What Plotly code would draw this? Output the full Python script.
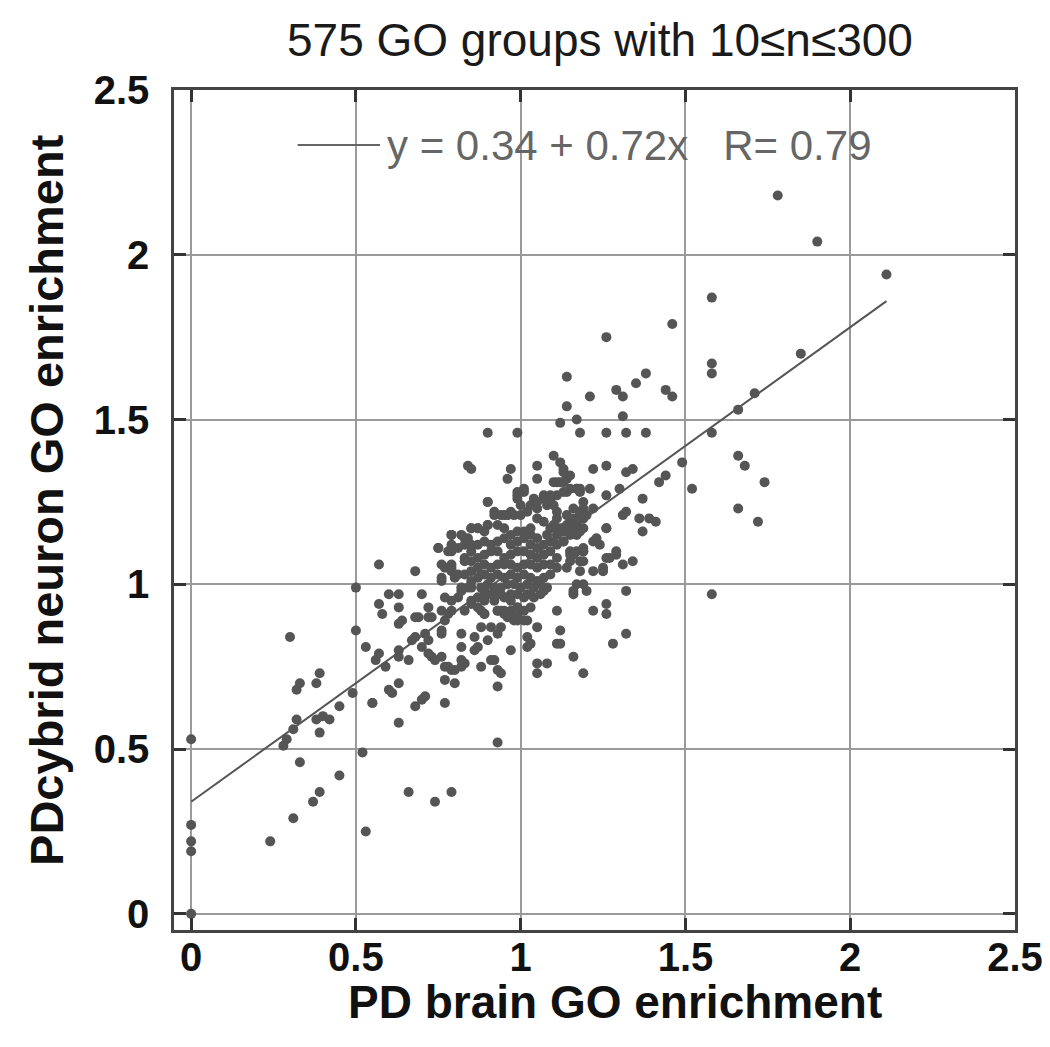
import plotly.graph_objects as go

# ---- data: (PD brain enrichment, PDcybrid neuron enrichment) ----
points_zero = [(0, 0.0), (0, 0.19), (0, 0.22), (0, 0.27), (0, 0.53)]

points_low = [
    (0.24, 0.22), (0.31, 0.29), (0.37, 0.34), (0.39, 0.37), (0.33, 0.46), (0.45, 0.42),
    (0.53, 0.25), (0.52, 0.49), (0.66, 0.37), (0.74, 0.34), (0.79, 0.37), (0.28, 0.51),
    (0.29, 0.53), (0.30, 0.84), (0.32, 0.68), (0.33, 0.70), (0.38, 0.70), (0.39, 0.73),
    (0.31, 0.56), (0.32, 0.59), (0.38, 0.59), (0.40, 0.60), (0.42, 0.59), (0.39, 0.55),
    (0.45, 0.63), (0.49, 0.67), (0.50, 0.99), (0.50, 0.86), (0.53, 0.81), (0.55, 0.64),
    (0.56, 0.77), (0.57, 0.79), (0.59, 0.75), (0.61, 0.67), (0.63, 0.70), (0.63, 0.58),
    (0.63, 0.78), (0.66, 0.77), (0.68, 0.63), (0.70, 0.65), (0.71, 0.66), (0.63, 0.88),
    (0.63, 0.93), (0.57, 0.94), (0.58, 0.91), (0.60, 0.97), (0.63, 0.97), (0.70, 0.97),
    (0.72, 0.93), (0.68, 0.90), (0.72, 0.90), (0.73, 0.90), (0.68, 0.84), (0.70, 0.81),
    (0.72, 0.83), (0.73, 0.78), (0.74, 0.77), (0.76, 0.78), (0.76, 0.86), (0.77, 0.71),
    (0.77, 0.75), (0.80, 0.70), (0.79, 0.74), (0.82, 0.81), (0.82, 0.75), (0.83, 0.76),
    (0.86, 0.80), (0.86, 0.84), (0.87, 0.81), (0.88, 0.75), (0.90, 0.83), (0.91, 0.77),
    (0.93, 0.85), (0.93, 0.74), (0.93, 0.69), (0.93, 0.52), (0.97, 0.80), (0.94, 0.87),
    (0.77, 0.64), (0.92, 0.77), (0.94, 0.73), (0.78, 0.75), (0.82, 0.77), (0.63, 0.80),
    (0.72, 0.79), (0.67, 0.83), (0.88, 0.87), (0.76, 0.85), (1.02, 0.84), (1.02, 0.81),
    (1.03, 0.82), (1.05, 0.87), (1.12, 0.86), (1.11, 0.82), (1.11, 0.92), (1.16, 0.78),
    (1.05, 0.76), (1.08, 0.76), (1.05, 0.73), (1.02, 0.89), (0.99, 0.89), (0.98, 0.90),
    (0.69, 0.90), (0.71, 0.85), (0.79, 0.92), (0.79, 0.95), (0.76, 0.92), (0.64, 0.89),
    (0.77, 0.96), (0.78, 0.91), (0.77, 0.89), (0.81, 0.96), (0.84, 0.99), (0.83, 0.92),
    (0.85, 0.94), (0.87, 0.93), (0.89, 0.91), (0.82, 0.85), (0.91, 0.87), (0.80, 0.74),
    (0.60, 0.68), (0.55, 0.64),
]

points_core = [
    (0.57, 1.06), (0.68, 1.04), (0.75, 1.11), (0.79, 1.15), (0.79, 1.10), (0.83, 1.14),
    (0.85, 1.17), (0.87, 1.17), (0.90, 1.18), (0.90, 1.25), (0.92, 1.22), (0.95, 1.21),
    (0.97, 1.22), (0.76, 1.06), (0.79, 1.05), (0.76, 1.01), (0.80, 1.02), (0.83, 1.08),
    (0.85, 1.12), (0.82, 0.99), (0.85, 0.99), (0.88, 1.03),
    (0.82, 0.98), (0.85, 0.95), (0.87, 0.96), (0.89, 0.98), (0.89, 0.95), (0.88, 0.92),
    (0.89, 0.91), (0.93, 0.92), (0.94, 0.92), (0.96, 0.90), (0.98, 0.89), (0.92, 0.95),
    (0.94, 0.97), (0.96, 0.96), (0.97, 0.95), (0.99, 0.93), (1.00, 0.92), (1.02, 0.97),
    (1.04, 0.96), (1.06, 0.97), (1.07, 0.98),
    (1.05, 1.20), (1.03, 1.17), (1.07, 1.19), (1.09, 1.17), (1.11, 1.15), (1.08, 1.15),
    (1.05, 1.14), (1.03, 1.15), (1.01, 1.16), (0.99, 1.16), (0.97, 1.15), (0.95, 1.17),
    (0.93, 1.18), (0.90, 1.18), (0.89, 1.16), (0.87, 1.17), (0.85, 1.17), (0.84, 1.14),
    (0.82, 1.15), (0.79, 1.15), (0.79, 1.12), (0.75, 1.11), (0.78, 1.10), (0.81, 1.11),
    (0.83, 1.12), (0.85, 1.10), (0.87, 1.12), (0.89, 1.13), (0.91, 1.12), (0.93, 1.13),
    (0.95, 1.14), (0.97, 1.12), (0.99, 1.13), (1.01, 1.14), (1.03, 1.12), (1.05, 1.11),
    (1.07, 1.12), (1.09, 1.13), (1.11, 1.12), (1.13, 1.13), (1.15, 1.10), (1.17, 1.10),
    (1.19, 1.10), (1.18, 1.07), (1.15, 1.07), (1.14, 1.05), (1.11, 1.08), (1.09, 1.10),
    (1.07, 1.09), (1.05, 1.08), (1.03, 1.09), (1.01, 1.10), (0.99, 1.10), (0.97, 1.09),
    (0.95, 1.08), (0.93, 1.10), (0.91, 1.10), (0.89, 1.09), (0.87, 1.08), (0.85, 1.07),
    (0.83, 1.07), (0.79, 1.06), (0.77, 1.05), (0.76, 1.02), (0.79, 1.04), (0.81, 1.03),
    (0.83, 1.03), (0.85, 1.04), (0.87, 1.05), (0.89, 1.06), (0.91, 1.05), (0.93, 1.06),
    (0.95, 1.06), (0.97, 1.06), (0.99, 1.05), (1.01, 1.06), (1.03, 1.06), (1.05, 1.05),
    (1.07, 1.06), (1.09, 1.06), (1.11, 1.05), (1.09, 1.03), (1.07, 1.02), (1.05, 1.01),
    (1.03, 1.02), (1.01, 1.03), (0.99, 1.02), (0.97, 1.03), (0.95, 1.02), (0.93, 1.03),
    (0.91, 1.02), (0.89, 1.03), (0.87, 1.02), (0.85, 1.01), (0.88, 0.99), (0.90, 1.00),
    (0.92, 0.99), (0.94, 0.99), (0.96, 1.00), (0.98, 1.00), (1.00, 0.99), (1.02, 1.00),
    (1.04, 0.99), (1.06, 1.00), (1.08, 0.99), (1.03, 0.97), (1.01, 0.96), (0.99, 0.97),
    (0.97, 0.97), (0.95, 0.96), (0.93, 0.97), (0.91, 0.97), (0.89, 0.96), (0.87, 0.96),
    (0.99, 0.93), (1.01, 0.92), (1.03, 0.93), (0.97, 0.92), (0.95, 0.92), (0.93, 0.92),
    (0.99, 0.90), (1.01, 0.89), (0.97, 0.90), (0.95, 0.91),
    (1.17, 1.29), (1.18, 1.28), (1.15, 1.29), (1.13, 1.28), (1.11, 1.27), (1.09, 1.26),
    (1.07, 1.27), (1.04, 1.26), (1.03, 1.24), (1.01, 1.28), (0.99, 1.27), (1.00, 1.24),
    (1.05, 1.23), (1.08, 1.24), (1.10, 1.24), (1.11, 1.22), (1.14, 1.21), (1.15, 1.19),
    (1.17, 1.18), (1.19, 1.20), (1.19, 1.17), (1.18, 1.16), (1.15, 1.15), (1.13, 1.16),
    (1.11, 1.17), (0.90, 1.25), (0.92, 1.21), (0.94, 1.21), (0.96, 1.21), (0.98, 1.21),
    (1.00, 1.21), (1.02, 1.22), (1.22, 1.23), (1.19, 1.23), (1.18, 1.22), (1.20, 1.21),
    (1.14, 1.32), (1.12, 1.31), (1.10, 1.31), (0.99, 1.28), (1.01, 1.29), (0.99, 1.26),
    (1.05, 1.25), (1.07, 1.26), (1.09, 1.27), (1.11, 1.20), (1.10, 1.18), (1.12, 1.17),
    (1.14, 1.18), (1.16, 1.16), (1.17, 1.18),
    (1.13, 1.34), (1.15, 1.33), (1.13, 1.31), (1.14, 1.28), (1.17, 1.29), (1.19, 1.25),
    (1.16, 1.23), (1.18, 1.21), (1.16, 1.20), (1.19, 1.20), (1.15, 1.17), (1.17, 1.15),
    (1.13, 1.17), (1.13, 1.13),
]

points_right = [
    (1.49, 1.37), (1.26, 1.36), (1.22, 1.35), (1.32, 1.34), (1.34, 1.35), (1.42, 1.31),
    (1.44, 1.33), (1.30, 1.29), (1.26, 1.27), (1.37, 1.26), (1.18, 1.29), (1.21, 1.29),
    (1.31, 1.21), (1.32, 1.22), (1.36, 1.20), (1.39, 1.20), (1.41, 1.19), (1.37, 1.16),
    (1.26, 1.17), (1.22, 1.13), (1.23, 1.14), (1.29, 1.09), (1.26, 1.08), (1.34, 1.07),
    (1.31, 1.06), (1.25, 1.04), (1.22, 1.04), (1.18, 1.04), (1.19, 1.07), (1.15, 1.09),
    (1.16, 1.09), (1.19, 1.10), (1.19, 1.00), (1.16, 0.98), (1.20, 0.98), (1.32, 0.98),
    (1.26, 0.94), (1.26, 0.91), (1.22, 0.92), (1.12, 0.82), (1.32, 0.85), (1.28, 0.82),
    (1.19, 0.73), (1.25, 1.05), (1.27, 1.08), (1.29, 1.10), (1.19, 1.11), (1.24, 1.12),
    (1.26, 1.17), (1.17, 1.00), (1.16, 0.97),
]

points_upper = [
    (1.78, 2.18), (1.90, 2.04), (2.11, 1.94), (1.58, 1.87), (1.46, 1.79), (1.26, 1.75),
    (1.58, 1.67), (1.58, 1.64), (1.85, 1.70), (1.38, 1.64), (1.35, 1.61), (1.29, 1.59),
    (1.31, 1.57), (1.44, 1.59), (1.46, 1.57), (1.71, 1.58), (1.66, 1.53), (1.31, 1.51),
    (1.18, 1.46), (1.26, 1.46), (1.32, 1.46), (1.38, 1.46), (1.58, 1.46), (1.66, 1.39),
    (1.68, 1.36), (1.74, 1.31), (1.52, 1.29), (1.66, 1.23), (1.72, 1.19), (1.58, 0.97),
    (1.14, 1.63), (1.21, 1.57), (1.14, 1.54), (1.12, 1.49), (1.17, 1.50),
    (0.90, 1.46), (0.99, 1.46), (0.84, 1.36), (0.85, 1.35), (0.97, 1.35), (0.96, 1.32),
    (1.05, 1.36), (1.05, 1.32), (1.10, 1.39), (1.12, 1.37), (1.13, 1.35), (1.11, 1.31),
]

fit_intercept = 0.34
fit_slope = 0.72
fit_x_range = [0.0, 2.11]
fit_label = "y = 0.34 + 0.72x\u00a0\u00a0\u00a0R= 0.79"

title_text = "575 GO groups with 10\u2264n\u2264300"
x_title = "PD brain GO enrichment"
y_title = "PDcybrid neuron GO enrichment"
tick_vals = [0, 0.5, 1, 1.5, 2, 2.5]
tick_text = ["0", "0.5", "1", "1.5", "2", "2.5"]

# ---- build ----
all_pts = points_zero + points_low + points_core + points_right + points_upper
bx = [p[0] for p in all_pts]
cy = [p[1] for p in all_pts]

FONT = "Liberation Sans, Arial, Helvetica, sans-serif"
DOT = "#555555"

fig = go.Figure()
fig.add_trace(go.Scatter(
    x=bx, y=cy, mode="markers",
    marker=dict(size=10, color=DOT, line=dict(width=0)),
    showlegend=False, hoverinfo="x+y",
))
fig.add_trace(go.Scatter(
    x=fit_x_range,
    y=[fit_intercept + fit_slope * v for v in fit_x_range],
    mode="lines", line=dict(color=DOT, width=2),
    showlegend=False, hoverinfo="skip",
))

axis_common = dict(
    tickvals=tick_vals, ticktext=tick_text,
    showgrid=True, gridcolor="#9a9a9a", gridwidth=2,
    zeroline=False, automargin=False,
    showline=True, linecolor="#444444", linewidth=2.5, mirror="allticks",
    ticks="inside", ticklen=12, tickwidth=2.5, tickcolor="#333333",
    tickfont=dict(family=FONT, size=40, color="#111111", weight="bold"),
)

fig.update_xaxes(range=[-0.052, 2.5], ticklabelstandoff=-10, **axis_common)
fig.update_yaxes(range=[-0.049, 2.5], ticklabelstandoff=14, **axis_common)

# page body has an 8px offset, compensated in the margins
fig.update_layout(
    width=1050, height=1047,
    margin=dict(l=166, r=43, t=82, b=125),
    paper_bgcolor="white", plot_bgcolor="white",
    font=dict(family=FONT),
    shapes=[dict(type="line", xref="paper", yref="paper",
                 x0=0.147, x1=0.245, y0=0.9345, y1=0.9345,
                 line=dict(color="#666666", width=2))],
    annotations=[
        dict(text=title_text, xref="paper", yref="paper", x=0.5065, y=1.0595,
             xanchor="center", yanchor="middle", showarrow=False,
             font=dict(family=FONT, size=46, color="#1a1a1a")),
        dict(text=fit_label, xref="paper", yref="paper", x=0.251, y=0.9345,
             xanchor="left", yanchor="middle", showarrow=False,
             font=dict(family=FONT, size=42, color="#666666")),
        dict(text=x_title, xref="paper", yref="paper", x=0.524, y=-0.086,
             xanchor="center", yanchor="middle", showarrow=False,
             font=dict(family=FONT, size=46, color="#111111", weight="bold")),
        dict(text=y_title, xref="paper", yref="paper", x=-0.151, y=0.512,
             xanchor="center", yanchor="middle", showarrow=False, textangle=-90,
             font=dict(family=FONT, size=47, color="#111111", weight="bold")),
    ],
)

fig.write_html("out.html")
